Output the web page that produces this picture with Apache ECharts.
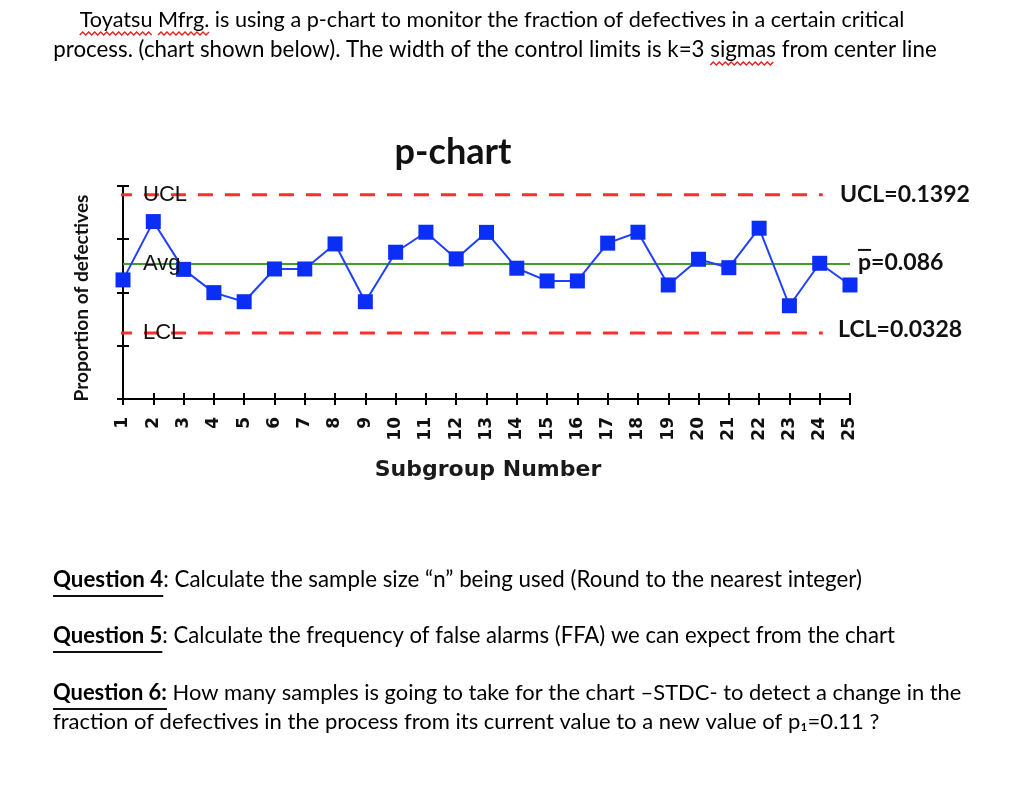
<!DOCTYPE html>
<html lang="en">
<head>
    <meta charset="UTF-8">
    <title>p-chart</title>
    <script src="https://cdn.jsdelivr.net/npm/echarts@6/dist/echarts.min.js"></script>
</head>
<body style="margin: 0; background: #fff">
<div id="container" style="width:1024px;height:791px;"></div>
<script>
    // chart data
    var subgroups = [1, 2, 3, 4, 5, 6, 7, 8, 9, 10, 11, 12, 13, 14, 15, 16, 17, 18, 19, 20, 21, 22, 23, 24, 25];
    var proportions = [0.0737, 0.1186, 0.0818, 0.0639, 0.0569, 0.0821, 0.0821, 0.1014, 0.0569, 0.0950,
        0.1104, 0.0899, 0.1103, 0.0827, 0.0729, 0.0729, 0.1020, 0.1104, 0.0698, 0.0896,
        0.0831, 0.1135, 0.0538, 0.0865, 0.0698];
    var ucl = 0.1392, centerLine = 0.086, lcl = 0.0328;
    var yTicks = [-0.018, 0.023, 0.064, 0.105, 0.146];
    var limitFrom = 0.8, limitTo = 24.1;

    var headerLines = [
        "Toyatsu Mfrg. is using a p-chart to monitor the fraction of defectives in a certain critical",
        "process. (chart shown below). The width of the control limits is k=3 sigmas from center line"
    ];
    var questions = [
        ["Question 4", ": Calculate the sample size \u201cn\u201d being used (Round to the nearest integer)"],
        ["Question 5", ": Calculate the frequency of false alarms (FFA) we can expect from the chart"],
        ["Question 6:", " How many samples is going to take for the chart \u2013STDC- to detect a change in the"],
        ["", "fraction of defectives in the process from its current value to a new value of p\u2081=0.11 ?"]
    ];

    var bodyFont = "Lato";
    var ctx = document.createElement("canvas").getContext("2d");
    function textWidth(str, size, bold, family) {
        ctx.font = (bold ? "bold " : "") + size + "px '" + (family || bodyFont) + "'";
        return ctx.measureText(str).width;
    }
    // font size so that a line covers the width it has in the picture
    function fitSize(boldPart, plainPart, target, family, allBold) {
        var w = textWidth(boldPart, 20, true, family) + textWidth(plainPart, 20, allBold, family);
        return 20 * target / w;
    }
    // red spell-check wave
    function squiggle(x, y, w) {
        var pts = [];
        for (var i = 0; i <= w; i += 3) pts.push([x + i, y + ((i / 3) % 2 ? 0 : 3)]);
        return {type: "polyline", shape: {points: pts}, style: {stroke: "#e52222", lineWidth: 1.4, fill: null}};
    }

    var dom = document.getElementById("container");
    var myChart = echarts.init(dom, null, {renderer: "canvas"});

    var tickStyle = {color: "#000", width: 2};
    var option = {
        animation: false,
        grid: {left: 123, top: 186, width: 727, height: 213},
        xAxis: [
            {
                type: "value", min: 1, max: 25, interval: 1,
                axisLine: {onZero: false, lineStyle: tickStyle},
                axisTick: {length: 6, lineStyle: tickStyle},
                axisLabel: {rotate: 90, margin: 18, fontFamily: "DejaVu Sans", fontWeight: "bold", fontSize: 17, color: "#111"},
                splitLine: {show: false}
            },
            {
                type: "value", position: "bottom", min: 1, max: 25, interval: 1,
                axisLine: {show: false, onZero: false},
                axisTick: {inside: true, length: 6, lineStyle: tickStyle},
                axisLabel: {show: false},
                splitLine: {show: false}
            }
        ],
        yAxis: [
            {
                type: "value", min: yTicks[0], max: yTicks[yTicks.length - 1],
                axisLine: {show: true, onZero: false, lineStyle: tickStyle},
                axisTick: {show: true, length: 6, lineStyle: tickStyle, customValues: yTicks},
                axisLabel: {show: false},
                splitLine: {show: false}
            },
            {
                type: "value", position: "left", min: yTicks[0], max: yTicks[yTicks.length - 1],
                axisLine: {show: false, onZero: false},
                axisTick: {show: true, inside: true, length: 6, lineStyle: tickStyle, customValues: yTicks},
                axisLabel: {show: false},
                splitLine: {show: false}
            }
        ],
        series: [
            {
                type: "line", data: [[1, centerLine], [25, centerLine]], symbol: "none", clip: false,
                lineStyle: {color: "#449c2c", width: 2}, z: 2
            },
            {
                type: "line", data: [[limitFrom, ucl], [limitTo, ucl]], symbol: "none", clip: false,
                lineStyle: {color: "#ff2e2e", width: 3, type: [15, 12]}, z: 2
            },
            {
                type: "line", data: [[limitFrom, lcl], [limitTo, lcl]], symbol: "none", clip: false,
                lineStyle: {color: "#ff2e2e", width: 3, type: [15, 12]}, z: 2
            },
            {
                type: "line", data: subgroups.map(function (s, i) { return [s, proportions[i]]; }),
                symbol: "rect", symbolSize: 15, clip: false,
                itemStyle: {color: "#0a2ef5"},
                lineStyle: {color: "#1f40ff", width: 2}, z: 5
            }
        ]
    };
    myChart.setOption(option);

    // texts around the chart
    var yU = myChart.convertToPixel({yAxisIndex: 0}, ucl);
    var yC = myChart.convertToPixel({yAxisIndex: 0}, centerLine);
    var yL = myChart.convertToPixel({yAxisIndex: 0}, lcl);
    var g = [];

    var s1 = fitSize("", headerLines[0], 825);
    var s2 = fitSize("", headerLines[1], 884);
    g.push({type: "text", x: 492, y: 20, style: {text: headerLines[0], font: s1 + "px '" + bodyFont + "'", fill: "#000", align: "center", verticalAlign: "middle"}});
    g.push({type: "text", x: 495, y: 50, style: {text: headerLines[1], font: s2 + "px '" + bodyFont + "'", fill: "#000", align: "center", verticalAlign: "middle"}});
    var x1 = 492 - textWidth(headerLines[0], s1) / 2;
    g.push(squiggle(x1, 32, textWidth("Toyatsu", s1)));
    g.push(squiggle(x1 + textWidth("Toyatsu ", s1), 32, textWidth("Mfrg.", s1)));
    var x2 = 495 - textWidth(headerLines[1], s2) / 2;
    var offS = textWidth("process. (chart shown below). The width of the control limits is k=3 ", s2);
    g.push(squiggle(x2 + offS, 62, textWidth("sigmas", s2)));

    var qTargets = [809, 842, 909, 827];
    var qY = [580, 636, 693, 722];
    questions.forEach(function (q, i) {
        var size = fitSize(q[0], q[1], qTargets[i]);
        var rich = {
            b: {fontFamily: bodyFont, fontWeight: "bold", fontSize: size, fill: "#000"},
            r: {fontFamily: bodyFont, fontSize: size, fill: "#000"}
        };
        g.push({type: "text", x: 53, y: qY[i], style: {
            text: (q[0] ? "{b|" + q[0] + "}" : "") + "{r|" + q[1] + "}",
            rich: rich, verticalAlign: "middle"
        }});
        if (q[0]) {
            g.push({type: "line", shape: {x1: 53, y1: qY[i] + 16, x2: 53 + textWidth(q[0], size, true), y2: qY[i] + 16},
                style: {stroke: "#111", lineWidth: 2}});
        }
    });

    // chart title and axis names
    var tSize = fitSize("p-chart", "", 117);
    g.push({type: "text", x: 453, y: 152, style: {text: "p-chart", font: "bold " + tSize + "px '" + bodyFont + "'", fill: "#111", align: "center", verticalAlign: "middle"}});
    var yName = "Proportion of defectives";
    var ySize = fitSize(yName, "", 207);
    g.push({type: "text", x: 82, y: 298, rotation: Math.PI / 2, style: {text: yName, font: "bold " + ySize + "px '" + bodyFont + "'", fill: "#111", align: "center", verticalAlign: "middle"}});
    g.push({type: "text", x: 488, y: 470, style: {text: "Subgroup Number", font: "bold 22px 'DejaVu Sans'", fill: "#1a1a1a", align: "center", verticalAlign: "middle"}});

    // limit labels
    var inner = "22px 'Liberation Sans'";
    g.push({type: "text", x: 143, y: yU, z: 10, style: {text: "UCL", font: inner, fill: "#111", verticalAlign: "middle"}});
    g.push({type: "text", x: 143, y: yC, z: 10, style: {text: "Avg", font: inner, fill: "#111", verticalAlign: "middle"}});
    g.push({type: "text", x: 143, y: yL, z: 10, style: {text: "LCL", font: inner, fill: "#111", verticalAlign: "middle"}});

    var rSize = fitSize("UCL=0.1392", "", 130);
    var rFont = "bold " + rSize + "px '" + bodyFont + "'";
    g.push({type: "text", x: 840, y: yU, style: {text: "UCL=" + ucl, font: rFont, fill: "#111", verticalAlign: "middle"}});
    g.push({type: "text", x: 858, y: yC - 1, style: {text: "p=" + centerLine, font: rFont, fill: "#111", verticalAlign: "middle"}});
    var pW = textWidth("p", rSize, true);
    g.push({type: "line", shape: {x1: 858, y1: yC - 14, x2: 858 + pW, y2: yC - 14}, style: {stroke: "#111", lineWidth: 2}});
    g.push({type: "text", x: 838, y: yL - 3, style: {text: "LCL=" + lcl, font: rFont, fill: "#111", verticalAlign: "middle"}});

    myChart.setOption({graphic: g});
</script>
</body>
</html>
